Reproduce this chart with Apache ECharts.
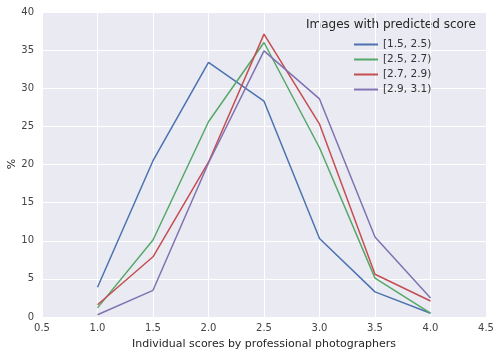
<!DOCTYPE html>
<html><head><meta charset="utf-8">
<script src="https://cdn.jsdelivr.net/npm/echarts@6/dist/echarts.min.js"></script>
<style>html,body{margin:0;padding:0;background:#fff}#c{width:500px;height:356px}</style>
</head><body><div id="c"></div>
<script>
const xValues = [1.0, 1.5, 2.0, 2.5, 3.0, 3.5, 4.0];
const seriesNames = ['[1.5, 2.5)', '[2.5, 2.7)', '[2.7, 2.9)', '[2.9, 3.1)'];
const s1 = [3.9, 20.5, 33.4, 28.3, 10.3, 3.3, 0.5];
const s2 = [1.2, 10.1, 25.6, 36.0, 22.2, 5.1, 0.5];
const s3 = [1.6, 7.9, 20.3, 37.1, 25.3, 5.6, 2.1];
const s4 = [0.3, 3.5, 20.2, 34.9, 28.6, 10.5, 2.5];
const colors = ['#4C72B0', '#55A868', '#C44E52', '#8172B2'];
const allValues = [s1, s2, s3, s4];

const chart = echarts.init(document.getElementById('c'));
const font = 'DejaVu Sans';
chart.setOption({
  animation: false,
  backgroundColor: '#fff',
  grid: { left: 42, right: 14, top: 12, bottom: 39, show: true, backgroundColor: '#EAEAF2', borderWidth: 0, containLabel: false, outerBoundsMode: 'none' },
  xAxis: {
    type: 'value', min: 0.5, max: 4.5, interval: 0.5,
    name: 'Individual scores by professional photographers',
    nameLocation: 'middle', nameGap: 22,
    nameTextStyle: { fontFamily: font, fontSize: 11, color: '#262626' },
    axisLine: { show: false }, axisTick: { show: false },
    axisLabel: { fontFamily: font, fontSize: 10, color: '#444', margin: 6, formatter: v => v.toFixed(1) },
    splitLine: { show: true, lineStyle: { color: '#fff', width: 1 } }
  },
  yAxis: {
    type: 'value', min: 0, max: 40, interval: 5,
    axisLine: { show: false }, axisTick: { show: false },
    axisLabel: { fontFamily: font, fontSize: 10, color: '#444', margin: 8 },
    splitLine: { show: true, lineStyle: { color: '#fff', width: 1 } }
  },
  legend: {
    orient: 'vertical', left: 349, top: 34, itemWidth: 24, itemHeight: 10, itemGap: 4,
    icon: 'path://M0,4 L24,4 L24,6 L0,6 Z',
    textStyle: { fontFamily: font, fontSize: 10.5, color: '#333' },
    data: seriesNames
  },
  graphic: [{
    type: 'text', left: 306, top: 19,
    style: { text: 'Images with predicted score', font: '12px "DejaVu Sans"', fill: '#262626' }
  }, {
    type: 'text', x: 12, y: 164, rotation: Math.PI / 2,
    style: { text: '%', font: '11px "DejaVu Sans"', fill: '#262626', align: 'center', verticalAlign: 'middle' }
  }],
  color: colors,
  series: seriesNames.map((n, i) => ({
    name: n, type: 'line', symbol: 'none',
    lineStyle: { width: 1.5, color: colors[i] },
    itemStyle: { color: colors[i] },
    data: xValues.map((x, j) => [x, allValues[i][j]])
  }))
});
</script></body></html>
